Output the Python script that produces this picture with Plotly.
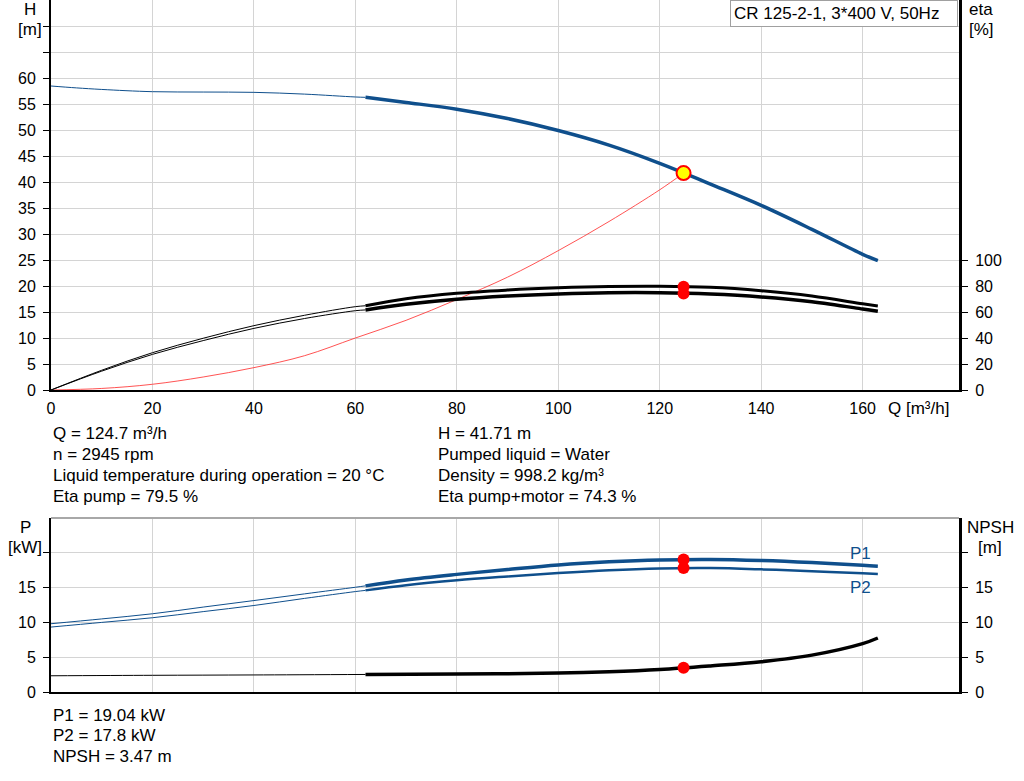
import plotly.graph_objects as go

# ---- data ----
# pump curve H [m]
q_h_thin = [0, 5, 10, 20, 30, 40, 50, 60, 62]
h_thin = [58.46, 58.1, 57.8, 57.37, 57.3, 57.24, 56.9, 56.35, 56.28]
q_thick = [62, 70, 80, 90, 100, 110, 120, 130, 140, 150, 160, 163]
h_thick = [56.28, 55.3, 54.0, 52.2, 49.9, 47.1, 43.6, 39.6, 35.5, 30.9, 26.1, 24.9]

# system curve (red)
q_sys = [0, 10, 20, 30, 40, 50, 60, 70, 80, 90, 100, 110, 120, 124.7]
h_sys = [0, 0.3, 1.1, 2.5, 4.3, 6.6, 10.0, 13.4, 17.4, 21.7, 26.8, 32.4, 38.5, 41.71]

# efficiencies [%]
q_eta_thin = [0, 10, 20, 30, 40, 50, 60, 62]
eta_pump_thin = [0, 15.2, 28.7, 39.8, 49.5, 57.5, 64.1, 64.8]
eta_tot_thin = [0, 14.5, 27.4, 38.0, 47.4, 55.0, 61.0, 61.6]
eta_pump_thick = [64.8, 70.2, 74.4, 76.9, 78.6, 79.6, 79.8, 79.0, 76.4, 72.3, 66.3, 64.6]
eta_tot_thick = [61.6, 65.9, 69.8, 72.3, 73.9, 74.8, 74.8, 73.8, 71.6, 67.9, 62.3, 60.5]

# power [kW]
q_p_thin = [0, 10, 20, 30, 40, 50, 60, 62]
p1_thin = [9.81, 10.5, 11.24, 12.2, 13.14, 14.1, 15.05, 15.25]
p2_thin = [9.33, 10.0, 10.67, 11.55, 12.43, 13.45, 14.43, 14.6]
p1_thick = [15.25, 16.1, 16.9, 17.6, 18.25, 18.7, 18.98, 19.05, 18.9, 18.6, 18.2, 18.05]
p2_thick = [14.6, 15.35, 16.05, 16.6, 17.1, 17.5, 17.75, 17.8, 17.62, 17.35, 17.05, 16.95]

# NPSH [m]
q_npsh_thin = [0, 20, 40, 62]
npsh_thin = [2.33, 2.4, 2.45, 2.52]
q_npsh_thick = [62, 80, 100, 110, 120, 130, 140, 150, 160, 163]
npsh_thick = [2.52, 2.57, 2.72, 2.92, 3.24, 3.75, 4.35, 5.3, 6.95, 7.76]

# duty point
q_op = 124.7
h_op = 41.71
eta_op = [79.5, 74.3]
p_op = [19.04, 17.8]
npsh_op = 3.47

x_ticks = [0, 20, 40, 60, 80, 100, 120, 140, 160]
h_ticks = [0, 5, 10, 15, 20, 25, 30, 35, 40, 45, 50, 55, 60, 65, 70]
eta_ticks = [0, 20, 40, 60, 80, 100]
p_ticks = [0, 5, 10, 15, 20]

info_left = ["Q = 124.7 m³/h", "n = 2945 rpm",
             "Liquid temperature during operation = 20 °C", "Eta pump = 79.5 %"]
info_right = ["H = 41.71 m", "Pumped liquid = Water",
              "Density = 998.2 kg/m³", "Eta pump+motor = 74.3 %"]
info_bottom = ["P1 = 19.04 kW", "P2 = 17.8 kW", "NPSH = 3.47 m"]
title_box = "CR 125-2-1, 3*400 V, 50Hz"

# ---- styling ----
W, H = 1024, 781
FONT = "Liberation Sans, Arial, sans-serif"
BLUE = "#0F4F8C"
GRID = "#d4d4d4"
RED = "#ff0000"
TXT = 17


def px(x):
    return x / W


def py(y):
    return 1 - y / H


xdom = [px(51), px(959)]
top_dom = [py(390), 1.0]
bot_dom = [py(692), py(518)]

fig = go.Figure()


def line(x, y, xa, ya, color, width):
    fig.add_trace(go.Scatter(x=x, y=y, xaxis=xa, yaxis=ya, mode="lines",
                             line=dict(color=color, width=width, shape="spline", smoothing=1),
                             hoverinfo="skip", showlegend=False))


# top panel
line(q_sys, h_sys, "x", "y", "rgba(255,40,40,0.8)", 1)
line(q_h_thin, h_thin, "x", "y", BLUE, 1)
line(q_thick, h_thick, "x", "y", BLUE, 3.5)
line(q_eta_thin, eta_pump_thin, "x", "y2", "black", 1)
line(q_eta_thin, eta_tot_thin, "x", "y2", "black", 1)
line(q_thick, eta_pump_thick, "x", "y2", "black", 3)
line(q_thick, eta_tot_thick, "x", "y2", "black", 3.5)

fig.add_trace(go.Scatter(x=[q_op, q_op], y=eta_op, xaxis="x", yaxis="y2", mode="markers",
                         marker=dict(color=RED, size=12), hoverinfo="skip", showlegend=False))
fig.add_trace(go.Scatter(x=[q_op], y=[h_op], xaxis="x", yaxis="y", mode="markers",
                         marker=dict(color="#ffff00", size=14, line=dict(color=RED, width=2)),
                         hoverinfo="skip", showlegend=False))

# bottom panel
line(q_p_thin, p1_thin, "x2", "y3", BLUE, 1)
line(q_p_thin, p2_thin, "x2", "y3", BLUE, 1)
line(q_thick, p1_thick, "x2", "y3", BLUE, 3.5)
line(q_thick, p2_thick, "x2", "y3", BLUE, 2.5)
line(q_npsh_thin, npsh_thin, "x2", "y4", "black", 1)
line(q_npsh_thick, npsh_thick, "x2", "y4", "black", 3.5)

fig.add_trace(go.Scatter(x=[q_op, q_op], y=p_op, xaxis="x2", yaxis="y3", mode="markers",
                         marker=dict(color=RED, size=12), hoverinfo="skip", showlegend=False))
fig.add_trace(go.Scatter(x=[q_op], y=[npsh_op], xaxis="x2", yaxis="y4", mode="markers",
                         marker=dict(color=RED, size=12), hoverinfo="skip", showlegend=False))

tickfont = dict(family=FONT, size=16, color="black")
xcommon = dict(domain=xdom, range=[0, 179], tickvals=x_ticks, showgrid=True, gridcolor=GRID,
               gridwidth=1, showline=True, linecolor="black", linewidth=1.5, ticks="",
               zeroline=False, tickfont=tickfont, fixedrange=True, automargin=False,
               ticklabelstandoff=3)
ycommon = dict(showline=True, linecolor="black", ticks="outside", ticklen=6, tickcolor="black",
               tickwidth=1, zeroline=False, tickfont=tickfont, fixedrange=True,
               ticklabelstandoff=4, automargin=False)

fig.update_layout(
    width=W, height=H,
    margin=dict(l=0, r=0, t=0, b=0, pad=0),
    paper_bgcolor="white", plot_bgcolor="white",
    font=dict(family=FONT, size=16, color="black"),
    xaxis=dict(anchor="y", **xcommon),
    yaxis=dict(domain=top_dom, anchor="x", range=[0, 75], tickvals=h_ticks,
               ticktext=[str(v) if v <= 60 else "" for v in h_ticks],
               showgrid=True, gridcolor=GRID, linewidth=2, **ycommon),
    yaxis2=dict(overlaying="y", anchor="x", side="right", range=[0, 300], tickvals=eta_ticks,
                showgrid=False, linewidth=3, **ycommon),
    xaxis2=dict(anchor="y3", showticklabels=False, **xcommon),
    yaxis3=dict(domain=bot_dom, anchor="x2", range=[0, 25], tickvals=p_ticks,
                ticktext=[str(v) if v < 20 else "" for v in p_ticks],
                showgrid=True, gridcolor=GRID, linewidth=2, **ycommon),
    yaxis4=dict(overlaying="y3", anchor="x2", side="right", range=[0, 25], tickvals=p_ticks,
                ticktext=[str(v) if v < 20 else "" for v in p_ticks],
                showgrid=False, linewidth=3, **ycommon),
)

# gray top frame of the lower panel
fig.add_shape(type="line", xref="paper", yref="paper", x0=xdom[0], x1=xdom[1],
              y0=bot_dom[1], y1=bot_dom[1], line=dict(color="#a8a8a8", width=2))

anns = []


def text(x, y, s, anchor="left", color="black", size=TXT):
    anns.append(dict(x=px(x), y=py(y), xref="paper", yref="paper", text=s, showarrow=False,
                     xanchor=anchor, yanchor="middle", font=dict(family=FONT, size=size, color=color)))


text(30, 10, "H", "center")
text(30, 29, "[m]", "center")
text(981, 10, "eta", "center")
text(981, 29, "[%]", "center")
text(25, 527, "P", "center")
text(25, 547, "[kW]", "center")
text(990, 527, "NPSH", "center")
text(990, 547, "[m]", "center")
text(918, 408, "Q [m³/h]", "center")
text(860, 553, "P1", "center", BLUE)
text(860, 587, "P2", "center", BLUE)

for i, s in enumerate(info_left):
    text(51, 433 + i * 21.3, s)
for i, s in enumerate(info_right):
    text(436, 433 + i * 21.3, s)
for i, s in enumerate(info_bottom):
    text(51, 715 + i * 20.5, s)

anns.append(dict(x=px(958), y=1, xref="paper", yref="paper", text=title_box, showarrow=False,
                 xanchor="right", yanchor="top", align="left", width=220, borderpad=3,
                 bordercolor="#a0a0a0", borderwidth=1, bgcolor="white",
                 font=dict(family=FONT, size=TXT, color="black")))

fig.update_layout(annotations=anns)

# page body has a default 8px margin; drop it so the figure sits at the window corner
fig.write_html("out.html", config={"displayModeBar": False},
               post_script="document.body.style.margin='0';")
